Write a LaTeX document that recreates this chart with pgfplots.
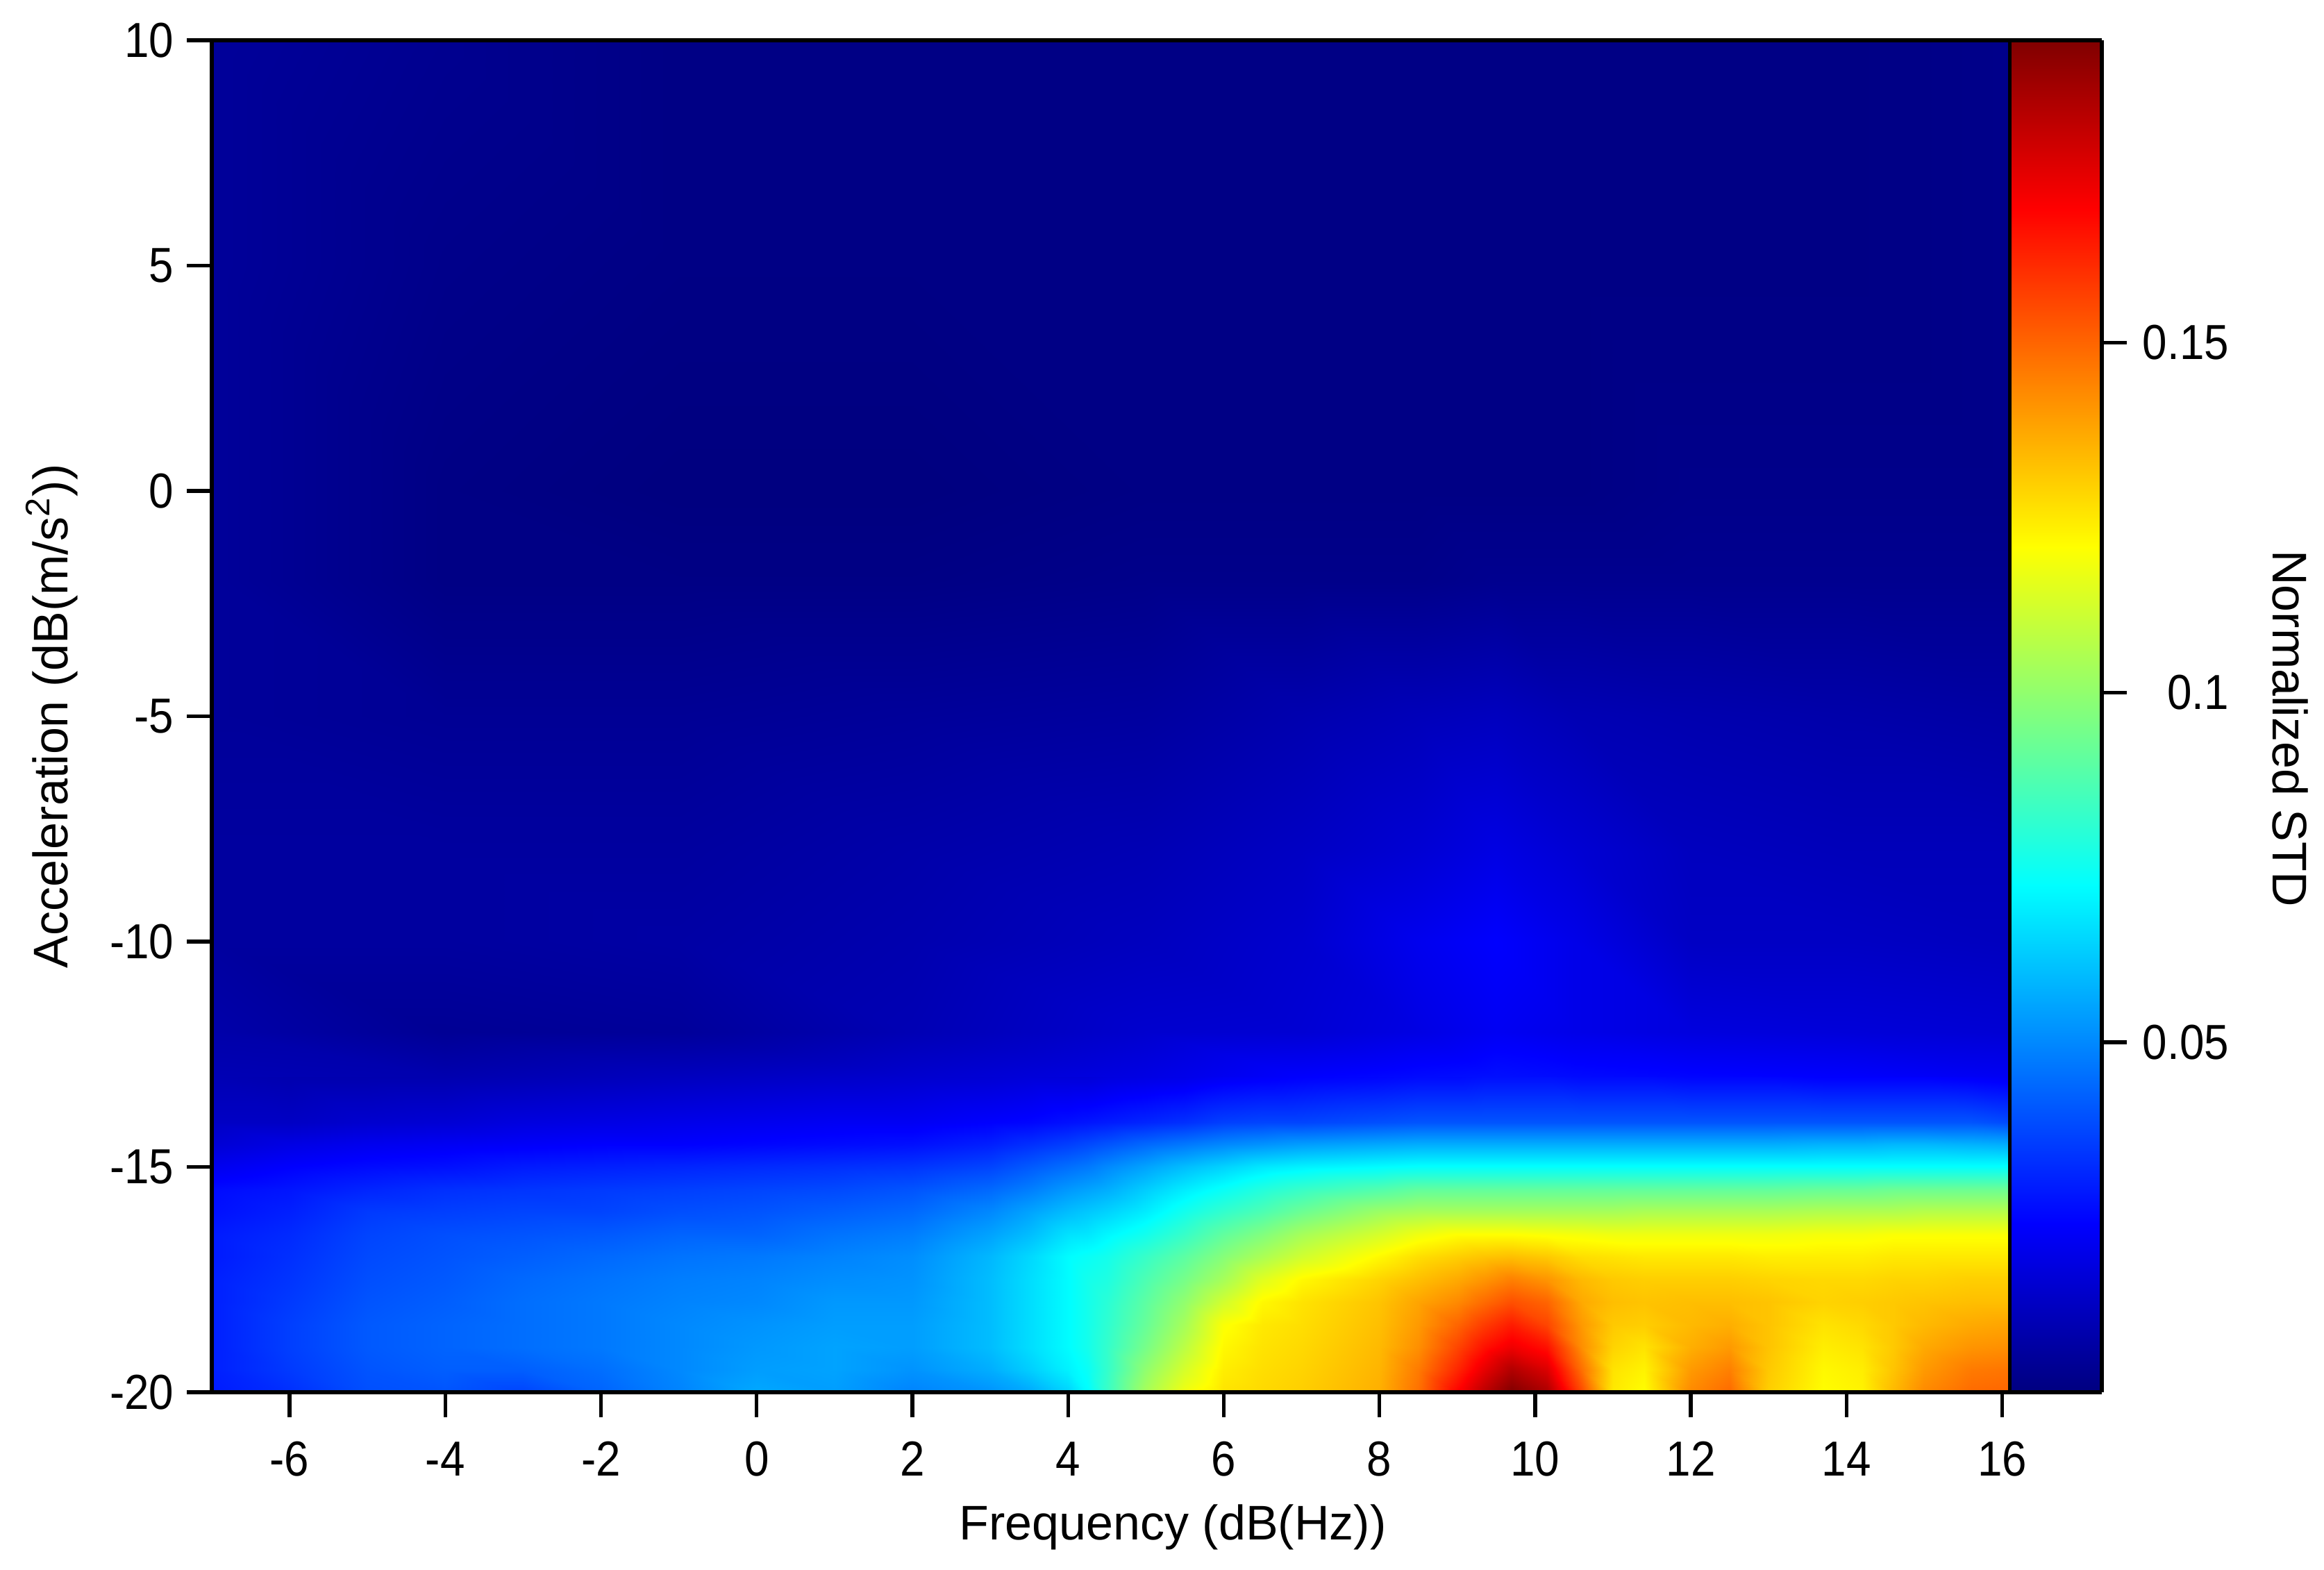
\documentclass[border=0pt]{standalone}
\usepackage{pgfplots}
\pgfplotsset{compat=1.18}
\usepackage{fontspec}
\setmainfont{Liberation Sans}
\newfontfamily\condfont[FakeStretch=.9]{Liberation Sans}
\begin{document}
\begin{tikzpicture}
\useasboundingbox (-73.2pt,-61.44pt) rectangle (730.08pt,481.2pt);
\pgfplotsset{
  colormap={myjet}{rgb(0cm)=(0,0,.5); rgb(1cm)=(0,0,1); rgb(3cm)=(0,1,1); rgb(5cm)=(1,1,0); rgb(7cm)=(1,0,0); rgb(8cm)=(.5,0,0)},
  every tick label/.append style={font=\condfont\fontsize{17}{20}\selectfont},
  /pgf/number format/assume math mode=true,
  /pgf/number format/fixed,
}
\begin{axis}[
  at={(0,0)},anchor=south west,
  scale only axis,width=653.28pt,height=467.28pt,
  view={0}{90},
  xmin=-7,xmax=17.28,ymin=-20,ymax=10,zmin=0,zmax=.2,
  colormap name=myjet,point meta min=0,point meta max=.1932,
  xtick={-6,-4,...,16},ytick={-20,-15,...,10},
  axis on top,
  tick align=outside,tick pos=left,
  major tick length=8.6pt,
  every tick/.style={black,line width=1.3pt},
  axis line style={black,line width=1.5pt},
  xlabel={Frequency (dB(Hz))},
  ylabel={Acceleration (dB(m/s\textsuperscript{2}))},
  xlabel style={at={(axis description cs:.5085,-.1),},anchor=center,font=\fontsize{16.8}{20}\selectfont},
  ylabel style={at={(axis description cs:-.0847,.5)},anchor=center,font=\fontsize{16.8}{20}\selectfont},
  xticklabel style={yshift=-5pt},
  yticklabel style={xshift=-1pt},
]
\addplot3[surf,shader=interp,mesh/rows=14,mesh/cols=38,mesh/ordering=y varies] table[row sep=\\]{
-7 -20 .029\\-7 -19.5 .030\\-7 -19 .030\\-7 -18.5 .030\\-7 -18 .030\\-7 -17.5 .030\\-7 -17 .029\\-7 -16.5 .029\\-7 -16 .027\\-7 -15.5 .026\\-7 -15 .021\\-7 -14.5 .016\\-7 -14 .013\\-7 -13 .010\\
-6 -20 .033\\-6 -19.5 .035\\-6 -19 .036\\-6 -18.5 .036\\-6 -18 .035\\-6 -17.5 .034\\-6 -17 .033\\-6 -16.5 .032\\-6 -16 .030\\-6 -15.5 .028\\-6 -15 .024\\-6 -14.5 .019\\-6 -14 .013\\-6 -13 .009\\
-5 -20 .039\\-5 -19.5 .040\\-5 -19 .041\\-5 -18.5 .041\\-5 -18 .040\\-5 -17.5 .039\\-5 -17 .038\\-5 -16.5 .037\\-5 -16 .035\\-5 -15.5 .031\\-5 -15 .026\\-5 -14.5 .021\\-5 -14 .015\\-5 -13 .009\\
-4 -20 .040\\-4 -19.5 .042\\-4 -19 .043\\-4 -18.5 .043\\-4 -18 .042\\-4 -17.5 .041\\-4 -17 .040\\-4 -16.5 .039\\-4 -16 .036\\-4 -15.5 .033\\-4 -15 .027\\-4 -14.5 .022\\-4 -14 .016\\-4 -13 .009\\
-3 -20 .037\\-3 -19.5 .042\\-3 -19 .045\\-3 -18.5 .045\\-3 -18 .045\\-3 -17.5 .044\\-3 -17 .042\\-3 -16.5 .040\\-3 -16 .037\\-3 -15.5 .034\\-3 -15 .029\\-3 -14.5 .023\\-3 -14 .018\\-3 -13 .010\\
-2 -20 .043\\-2 -19.5 .045\\-2 -19 .047\\-2 -18.5 .047\\-2 -18 .047\\-2 -17.5 .046\\-2 -17 .044\\-2 -16.5 .041\\-2 -16 .037\\-2 -15.5 .035\\-2 -15 .030\\-2 -14.5 .024\\-2 -14 .019\\-2 -13 .011\\
-1 -20 .049\\-1 -19.5 .050\\-1 -19 .050\\-1 -18.5 .050\\-1 -18 .049\\-1 -17.5 .048\\-1 -17 .046\\-1 -16.5 .043\\-1 -16 .039\\-1 -15.5 .036\\-1 -15 .031\\-1 -14.5 .024\\-1 -14 .020\\-1 -13 .012\\
0 -20 .056\\0 -19.5 .054\\0 -19 .053\\0 -18.5 .052\\0 -18 .050\\0 -17.5 .049\\0 -17 .047\\0 -16.5 .043\\0 -16 .040\\0 -15.5 .037\\0 -15 .032\\0 -14.5 .025\\0 -14 .021\\0 -13 .013\\
1 -20 .054\\1 -19.5 .055\\1 -19 .055\\1 -18.5 .054\\1 -18 .053\\1 -17.5 .051\\1 -17 .049\\1 -16.5 .046\\1 -16 .042\\1 -15.5 .038\\1 -15 .033\\1 -14.5 .026\\1 -14 .022\\1 -13 .014\\
2 -20 .049\\2 -19.5 .052\\2 -19 .054\\2 -18.5 .054\\2 -18 .053\\2 -17.5 .052\\2 -17 .051\\2 -16.5 .048\\2 -16 .044\\2 -15.5 .040\\2 -15 .034\\2 -14.5 .027\\2 -14 .022\\2 -13 .015\\
3 -20 .052\\3 -19.5 .057\\3 -19 .060\\3 -18.5 .060\\3 -18 .060\\3 -17.5 .060\\3 -17 .059\\3 -16.5 .055\\3 -16 .050\\3 -15.5 .044\\3 -15 .037\\3 -14.5 .030\\3 -14 .024\\3 -13 .016\\
3.5 -20 .056\\3.5 -19.5 .063\\3.5 -19 .066\\3.5 -18.5 .066\\3.5 -18 .066\\3.5 -17.5 .066\\3.5 -17 .065\\3.5 -16.5 .060\\3.5 -16 .055\\3.5 -15.5 .048\\3.5 -15 .041\\3.5 -14.5 .033\\3.5 -14 .025\\3.5 -13 .017\\
4 -20 .064\\4 -19.5 .070\\4 -19 .072\\4 -18.5 .072\\4 -18 .072\\4 -17.5 .072\\4 -17 .072\\4 -16.5 .067\\4 -16 .060\\4 -15.5 .053\\4 -15 .045\\4 -14.5 .036\\4 -14 .027\\4 -13 .017\\
4.25 -20 .072\\4.25 -19.5 .074\\4.25 -19 .076\\4.25 -18.5 .076\\4.25 -18 .076\\4.25 -17.5 .076\\4.25 -17 .074\\4.25 -16.5 .068\\4.25 -16 .062\\4.25 -15.5 .055\\4.25 -15 .047\\4.25 -14.5 .038\\4.25 -14 .028\\4.25 -13 .017\\
4.5 -20 .083\\4.5 -19.5 .082\\4.5 -19 .082\\4.5 -18.5 .081\\4.5 -18 .080\\4.5 -17.5 .078\\4.5 -17 .076\\4.5 -16.5 .071\\4.5 -16 .064\\4.5 -15.5 .057\\4.5 -15 .050\\4.5 -14.5 .040\\4.5 -14 .029\\4.5 -13 .018\\
5 -20 .104\\5 -19.5 .100\\5 -19 .095\\5 -18.5 .092\\5 -18 .090\\5 -17.5 .087\\5 -17 .083\\5 -16.5 .076\\5 -16 .069\\5 -15.5 .063\\5 -15 .055\\5 -14.5 .044\\5 -14 .031\\5 -13 .019\\
5.5 -20 .118\\5.5 -19.5 .113\\5.5 -19 .108\\5.5 -18.5 .104\\5.5 -18 .100\\5.5 -17.5 .095\\5.5 -17 .090\\5.5 -16.5 .083\\5.5 -16 .076\\5.5 -15.5 .069\\5.5 -15 .060\\5.5 -14.5 .047\\5.5 -14 .033\\5.5 -13 .020\\
6 -20 .126\\6 -19.5 .124\\6 -19 .122\\6 -18.5 .120\\6 -18 .112\\6 -17.5 .104\\6 -17 .098\\6 -16.5 .091\\6 -16 .082\\6 -15.5 .074\\6 -15 .064\\6 -14.5 .050\\6 -14 .036\\6 -13 .022\\
6.5 -20 .128\\6.5 -19.5 .127\\6.5 -19 .126\\6.5 -18.5 .125\\6.5 -18 .122\\6.5 -17.5 .115\\6.5 -17 .105\\6.5 -16.5 .097\\6.5 -16 .087\\6.5 -15.5 .079\\6.5 -15 .068\\6.5 -14.5 .052\\6.5 -14 .037\\6.5 -13 .023\\
7 -20 .130\\7 -19.5 .129\\7 -19 .128\\7 -18.5 .127\\7 -18 .126\\7 -17.5 .122\\7 -17 .112\\7 -16.5 .104\\7 -16 .093\\7 -15.5 .083\\7 -15 .070\\7 -14.5 .054\\7 -14 .037\\7 -13 .024\\
8 -20 .136\\8 -19.5 .135\\8 -19 .134\\8 -18.5 .133\\8 -18 .132\\8 -17.5 .129\\8 -17 .122\\8 -16.5 .113\\8 -16 .102\\8 -15.5 .088\\8 -15 .072\\8 -14.5 .056\\8 -14 .039\\8 -13 .025\\
8.5 -20 .148\\8.5 -19.5 .146\\8.5 -19 .142\\8.5 -18.5 .140\\8.5 -18 .138\\8.5 -17.5 .133\\8.5 -17 .127\\8.5 -16.5 .118\\8.5 -16 .104\\8.5 -15.5 .091\\8.5 -15 .073\\8.5 -14.5 .057\\8.5 -14 .040\\8.5 -13 .026\\
9 -20 .169\\9 -19.5 .162\\9 -19 .156\\9 -18.5 .150\\9 -18 .143\\9 -17.5 .137\\9 -17 .130\\9 -16.5 .121\\9 -16 .104\\9 -15.5 .091\\9 -15 .073\\9 -14.5 .057\\9 -14 .040\\9 -13 .026\\
9.35 -20 .182\\9.35 -19.5 .174\\9.35 -19 .166\\9.35 -18.5 .158\\9.35 -18 .149\\9.35 -17.5 .141\\9.35 -17 .132\\9.35 -16.5 .121\\9.35 -16 .104\\9.35 -15.5 .091\\9.35 -15 .073\\9.35 -14.5 .057\\9.35 -14 .040\\9.35 -13 .027\\
9.7 -20 .193\\9.7 -19.5 .184\\9.7 -19 .172\\9.7 -18.5 .164\\9.7 -18 .154\\9.7 -17.5 .145\\9.7 -17 .133\\9.7 -16.5 .121\\9.7 -16 .104\\9.7 -15.5 .091\\9.7 -15 .073\\9.7 -14.5 .057\\9.7 -14 .040\\9.7 -13 .027\\
10.15 -20 .185\\10.15 -19.5 .176\\10.15 -19 .166\\10.15 -18.5 .156\\10.15 -18 .150\\10.15 -17.5 .141\\10.15 -17 .131\\10.15 -16.5 .120\\10.15 -16 .104\\10.15 -15.5 .091\\10.15 -15 .073\\10.15 -14.5 .057\\10.15 -14 .040\\10.15 -13 .027\\
10.6 -20 .155\\10.6 -19.5 .148\\10.6 -19 .142\\10.6 -18.5 .140\\10.6 -18 .137\\10.6 -17.5 .134\\10.6 -17 .127\\10.6 -16.5 .119\\10.6 -16 .104\\10.6 -15.5 .091\\10.6 -15 .073\\10.6 -14.5 .057\\10.6 -14 .040\\10.6 -13 .026\\
11 -20 .125\\11 -19.5 .126\\11 -19 .129\\11 -18.5 .131\\11 -18 .133\\11 -17.5 .131\\11 -17 .126\\11 -16.5 .118\\11 -16 .104\\11 -15.5 .091\\11 -15 .073\\11 -14.5 .057\\11 -14 .040\\11 -13 .026\\
11.4 -20 .121\\11.4 -19.5 .123\\11.4 -19 .126\\11.4 -18.5 .130\\11.4 -18 .132\\11.4 -17.5 .130\\11.4 -17 .125\\11.4 -16.5 .118\\11.4 -16 .105\\11.4 -15.5 .091\\11.4 -15 .073\\11.4 -14.5 .057\\11.4 -14 .040\\11.4 -13 .026\\
12 -20 .143\\12 -19.5 .140\\12 -19 .136\\12 -18.5 .134\\12 -18 .133\\12 -17.5 .130\\12 -17 .125\\12 -16.5 .118\\12 -16 .105\\12 -15.5 .091\\12 -15 .073\\12 -14.5 .057\\12 -14 .040\\12 -13 .025\\
12.5 -20 .149\\12.5 -19.5 .145\\12.5 -19 .140\\12.5 -18.5 .136\\12.5 -18 .133\\12.5 -17.5 .130\\12.5 -17 .125\\12.5 -16.5 .118\\12.5 -16 .105\\12.5 -15.5 .091\\12.5 -15 .073\\12.5 -14.5 .057\\12.5 -14 .040\\12.5 -13 .025\\
13 -20 .130\\13 -19.5 .131\\13 -19 .132\\13 -18.5 .132\\13 -18 .132\\13 -17.5 .129\\13 -17 .124\\13 -16.5 .118\\13 -16 .105\\13 -15.5 .091\\13 -15 .073\\13 -14.5 .057\\13 -14 .040\\13 -13 .025\\
13.7 -20 .121\\13.7 -19.5 .122\\13.7 -19 .124\\13.7 -18.5 .126\\13.7 -18 .129\\13.7 -17.5 .128\\13.7 -17 .124\\13.7 -16.5 .119\\13.7 -16 .106\\13.7 -15.5 .092\\13.7 -15 .073\\13.7 -14.5 .058\\13.7 -14 .040\\13.7 -13 .024\\
14.2 -20 .123\\14.2 -19.5 .124\\14.2 -19 .126\\14.2 -18.5 .128\\14.2 -18 .130\\14.2 -17.5 .128\\14.2 -17 .124\\14.2 -16.5 .119\\14.2 -16 .106\\14.2 -15.5 .092\\14.2 -15 .073\\14.2 -14.5 .058\\14.2 -14 .040\\14.2 -13 .024\\
14.6 -20 .134\\14.6 -19.5 .132\\14.6 -19 .131\\14.6 -18.5 .131\\14.6 -18 .131\\14.6 -17.5 .129\\14.6 -17 .125\\14.6 -16.5 .120\\14.6 -16 .106\\14.6 -15.5 .093\\14.6 -15 .073\\14.6 -14.5 .059\\14.6 -14 .040\\14.6 -13 .024\\
15 -20 .143\\15 -19.5 .140\\15 -19 .137\\15 -18.5 .134\\15 -18 .132\\15 -17.5 .129\\15 -17 .125\\15 -16.5 .120\\15 -16 .107\\15 -15.5 .093\\15 -15 .073\\15 -14.5 .059\\15 -14 .040\\15 -13 .024\\
15.6 -20 .149\\15.6 -19.5 .146\\15.6 -19 .141\\15.6 -18.5 .137\\15.6 -18 .133\\15.6 -17.5 .130\\15.6 -17 .125\\15.6 -16.5 .120\\15.6 -16 .107\\15.6 -15.5 .093\\15.6 -15 .073\\15.6 -14.5 .058\\15.6 -14 .040\\15.6 -13 .023\\
16.1 -20 .150\\16.1 -19.5 .147\\16.1 -19 .142\\16.1 -18.5 .138\\16.1 -18 .133\\16.1 -17.5 .130\\16.1 -17 .125\\16.1 -16.5 .120\\16.1 -16 .107\\16.1 -15.5 .093\\16.1 -15 .073\\16.1 -14.5 .057\\16.1 -14 .038\\16.1 -13 .022\\
};
\addplot3[surf,shader=interp,mesh/rows=9,mesh/cols=12,mesh/ordering=y varies] table[row sep=\\]{
-7 -13 .010\\-7 -12 .008\\-7 -10 .006\\-7 -8 .006\\-7 -5 .005\\-7 -2 .005\\-7 0 .005\\-7 5 .005\\-7 10 .005\\
-4 -13 .009\\-4 -12 .004\\-4 -10 .006\\-4 -8 .006\\-4 -5 .004\\-4 -2 .001\\-4 0 .001\\-4 5 .002\\-4 10 .003\\
-1 -13 .012\\-1 -12 .005\\-1 -10 .007\\-1 -8 .006\\-1 -5 .004\\-1 -2 .001\\-1 0 .000\\-1 5 .001\\-1 10 .001\\
2 -13 .015\\2 -12 .010\\2 -10 .009\\2 -8 .008\\2 -5 .005\\2 -2 .001\\2 0 .000\\2 5 .001\\2 10 .001\\
5 -13 .019\\5 -12 .015\\5 -10 .012\\5 -8 .010\\5 -5 .006\\5 -2 .002\\5 0 .001\\5 5 .001\\5 10 .001\\
7 -13 .024\\7 -12 .016\\7 -10 .015\\7 -8 .013\\7 -5 .009\\7 -2 .002\\7 0 .001\\7 5 .001\\7 10 .001\\
8.5 -13 .026\\8.5 -12 .019\\8.5 -10 .021\\8.5 -8 .016\\8.5 -5 .011\\8.5 -2 .002\\8.5 0 .001\\8.5 5 .001\\8.5 10 .001\\
9.5 -13 .027\\9.5 -12 .022\\9.5 -10 .024\\9.5 -8 .019\\9.5 -5 .012\\9.5 -2 .003\\9.5 0 .001\\9.5 5 .001\\9.5 10 .001\\
10.5 -13 .026\\10.5 -12 .020\\10.5 -10 .020\\10.5 -8 .016\\10.5 -5 .010\\10.5 -2 .003\\10.5 0 .001\\10.5 5 .001\\10.5 10 .001\\
12 -13 .025\\12 -12 .018\\12 -10 .013\\12 -8 .012\\12 -5 .009\\12 -2 .003\\12 0 .002\\12 5 .001\\12 10 .001\\
14 -13 .024\\14 -12 .017\\14 -10 .013\\14 -8 .011\\14 -5 .008\\14 -2 .003\\14 0 .002\\14 5 .001\\14 10 .001\\
16.1 -13 .022\\16.1 -12 .016\\16.1 -10 .012\\16.1 -8 .011\\16.1 -5 .007\\16.1 -2 .003\\16.1 0 .002\\16.1 5 .002\\16.1 10 .002\\
};
\addplot3[surf,shader=interp,mesh/rows=6,mesh/cols=2,mesh/ordering=y varies] table[row sep=\\]{
16.1 -20 0\\16.1 -16.25 .02415\\16.1 -8.75 .07245\\16.1 -1.25 .12075\\16.1 6.25 .16905\\16.1 10 .1932\\
17.28 -20 0\\17.28 -16.25 .02415\\17.28 -8.75 .07245\\17.28 -1.25 .12075\\17.28 6.25 .16905\\17.28 10 .1932\\
};
\addplot3[black,line width=1.2pt] coordinates {(16.1,-20,.2) (16.1,10,.2)};
\end{axis}
\begin{axis}[
  at={(0,0)},anchor=south west,
  scale only axis,width=653.28pt,height=467.28pt,
  xmin=-7,xmax=17.28,ymin=0,ymax=.1932,
  axis y line*=right,axis x line=none,
  ytick={.05,.1,.15},
  yticklabels={0.05,\hphantom{0}0.1,0.15},
  tick align=outside,
  major tick length=8.6pt,
  every tick/.style={black,line width=1.3pt},
  axis line style={black,line width=1.5pt},
  ylabel={Normalized STD},
  ylabel style={at={(axis description cs:1.0996,.491)},anchor=center,rotate=180,font=\fontsize{16.8}{20}\selectfont},
  yticklabel style={xshift=2pt},
]
\end{axis}
\end{tikzpicture}
\end{document}
